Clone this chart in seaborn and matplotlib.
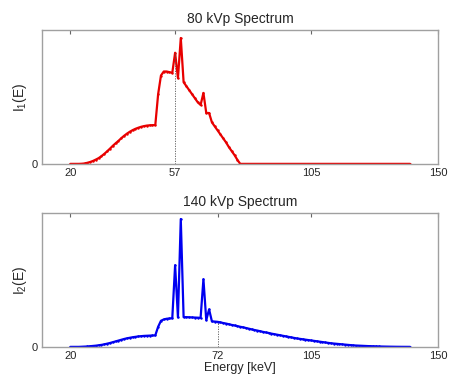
import numpy as np
import seaborn as sns
import matplotlib
matplotlib.use("Agg")
import matplotlib.pyplot as plt

# energias en keV (paso 1 keV)
energia = list(range(20, 141))

# espectro 80 kVp (unidades relativas), 20..140 keV
espectro_80 = [
    0.0, 0.0, 0.0, 0.0, 0.001, 0.003, 0.008, 0.014, 0.022, 0.032,      # 20-29
    0.043, 0.058, 0.075, 0.094, 0.114, 0.135, 0.154, 0.172, 0.192, 0.210,  # 30-39
    0.226, 0.240, 0.252, 0.262, 0.270, 0.277, 0.282, 0.286, 0.288, 0.289,  # 40-49
    0.290, 0.52, 0.66, 0.69, 0.69, 0.685, 0.68, 0.83, 0.64, 0.94,       # 50-59
    0.61, 0.58, 0.55, 0.52, 0.49, 0.46, 0.44, 0.53, 0.38, 0.38,         # 60-69
    0.31, 0.28, 0.25, 0.22, 0.19, 0.16, 0.125, 0.095, 0.065, 0.03,      # 70-79
    0.0, 0.0, 0.0, 0.0, 0.0, 0.0, 0.0, 0.0, 0.0, 0.0,                   # 80-89
    0.0, 0.0, 0.0, 0.0, 0.0, 0.0, 0.0, 0.0, 0.0, 0.0,                   # 90-99
    0.0, 0.0, 0.0, 0.0, 0.0, 0.0, 0.0, 0.0, 0.0, 0.0,                   # 100-109
    0.0, 0.0, 0.0, 0.0, 0.0, 0.0, 0.0, 0.0, 0.0, 0.0,                   # 110-119
    0.0, 0.0, 0.0, 0.0, 0.0, 0.0, 0.0, 0.0, 0.0, 0.0,                   # 120-129
    0.0, 0.0, 0.0, 0.0, 0.0, 0.0, 0.0, 0.0, 0.0, 0.0,                   # 130-139
    0.0,                                                                # 140
]

# espectro 140 kVp
espectro_140 = [
    0.0, 0.0, 0.0, 0.0, 0.001, 0.002, 0.003, 0.005, 0.007, 0.009,       # 20-29
    0.012, 0.015, 0.019, 0.024, 0.029, 0.035, 0.041, 0.047, 0.053, 0.059,  # 30-39
    0.064, 0.068, 0.072, 0.075, 0.078, 0.080, 0.082, 0.083, 0.084, 0.085,  # 40-49
    0.086, 0.15, 0.195, 0.205, 0.21, 0.212, 0.214, 0.61, 0.22, 0.955,   # 50-59
    0.222, 0.222, 0.221, 0.220, 0.219, 0.218, 0.217, 0.505, 0.20, 0.28,  # 60-69
    0.19, 0.189, 0.187, 0.183, 0.178, 0.174, 0.169, 0.164, 0.160, 0.155,  # 70-79
    0.150, 0.146, 0.141, 0.136, 0.131, 0.126, 0.122, 0.117, 0.112, 0.108,  # 80-89
    0.104, 0.099, 0.095, 0.091, 0.087, 0.083, 0.079, 0.075, 0.071, 0.067,  # 90-99
    0.063, 0.060, 0.057, 0.054, 0.051, 0.048, 0.045, 0.042, 0.039, 0.036,  # 100-109
    0.033, 0.030, 0.027, 0.025, 0.023, 0.021, 0.019, 0.017, 0.015, 0.013,  # 110-119
    0.011, 0.010, 0.009, 0.008, 0.007, 0.006, 0.0052, 0.0045, 0.0038, 0.0032,  # 120-129
    0.0026, 0.0021, 0.0017, 0.0013, 0.001, 0.0007, 0.0005, 0.0003, 0.0002, 0.0001,  # 130-139
    0.0,                                                                # 140
]

# energia media marcada con linea punteada y ticks del eje x
energia_media_80 = 57
energia_media_140 = 72
ticks_80 = [20, 57, 105, 150]
ticks_140 = [20, 72, 105, 150]

sns.set_style("white")
plt.rcParams["font.family"] = ["Liberation Sans", "DejaVu Sans"]

GRIS = "#a0a0a0"

fig = plt.figure(figsize=(4.52, 3.75), dpi=100)
ax1 = fig.add_axes([0.093, 0.563, 0.877, 0.357])
ax2 = fig.add_axes([0.093, 0.075, 0.877, 0.357])


def dibujar(ax, y, color, media, ticks, titulo, etiqueta):
    sns.lineplot(x=energia, y=y, ax=ax, color=color, linewidth=1.6,
                 marker=".", markersize=3.5, markeredgewidth=0)
    valor = y[energia.index(media)]
    ax.vlines(media, 0, valor, colors="#555555", linestyles=(0, (1.5, 1.5)),
              linewidth=0.6)
    ax.set_xlim(10, 150)
    ax.set_ylim(0, 1.0)
    ax.set_xticks(ticks)
    ax.set_yticks([0])
    ax.tick_params(direction="in", top=True, right=False, length=3,
                   color="#666666", labelsize=8, pad=3)
    for s in ax.spines.values():
        s.set_color(GRIS)
        s.set_linewidth(1.0)
    ax.set_title(titulo, fontsize=10, pad=5)
    ax.set_ylabel(etiqueta, fontsize=10, labelpad=2)


dibujar(ax1, espectro_80, "#e80000", energia_media_80, ticks_80,
        "80 kVp Spectrum", r"$\mathregular{I_1(E)}$")
dibujar(ax2, espectro_140, "#0000f0", energia_media_140, ticks_140,
        "140 kVp Spectrum", r"$\mathregular{I_2(E)}$")
ax2.set_xlabel("Energy [keV]", fontsize=9, labelpad=1)

fig.savefig("out.png", dpi=100)
